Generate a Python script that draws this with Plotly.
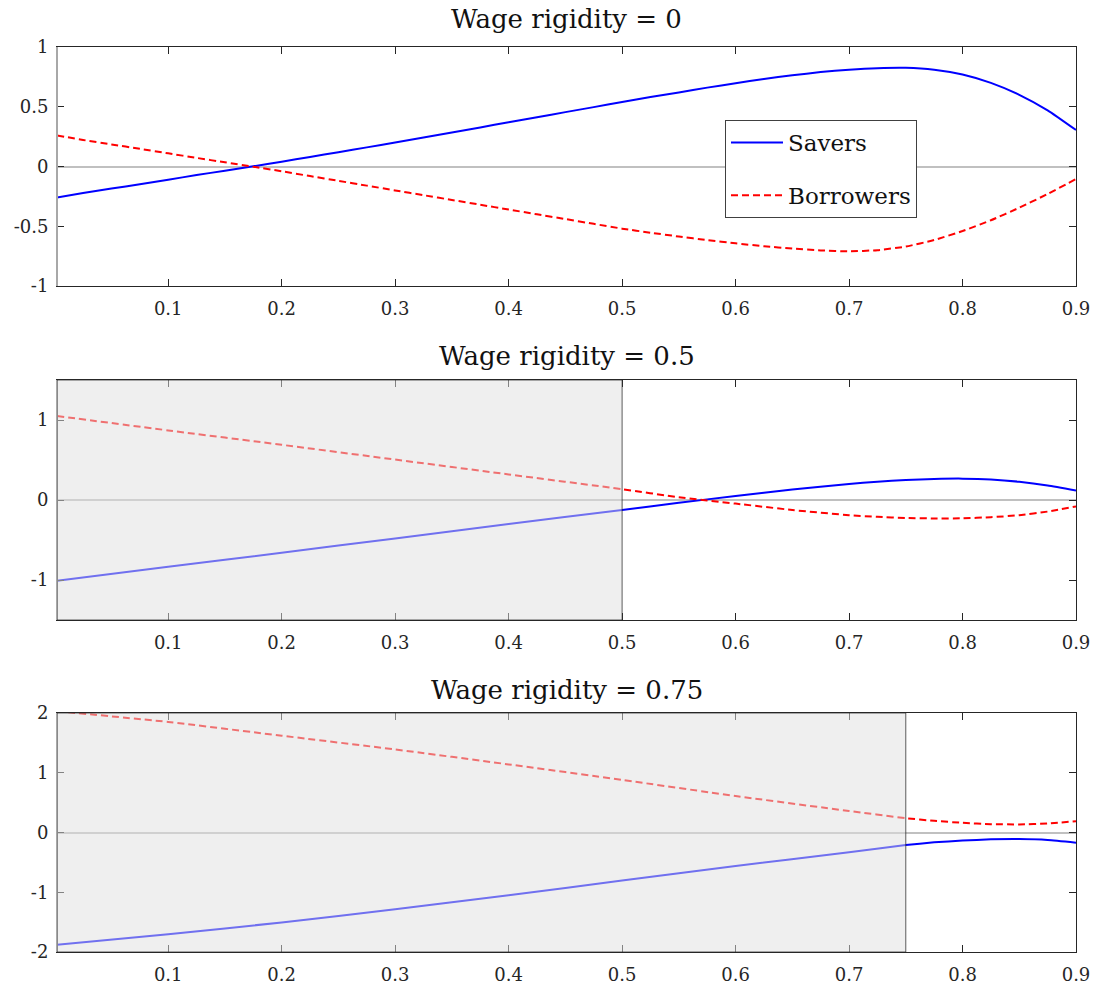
import plotly.graph_objects as go

# ---------------- data ----------------
x1 = [0.002, 0.025, 0.05, 0.075, 0.1, 0.125, 0.15, 0.175, 0.2, 0.225, 0.25, 0.275, 0.3, 0.325, 0.35, 0.375, 0.4, 0.425, 0.45, 0.475, 0.5,
      0.525, 0.55, 0.575, 0.6, 0.625, 0.65, 0.675, 0.7, 0.725, 0.75, 0.775, 0.8, 0.825, 0.85, 0.875, 0.9]
savers1 = [-0.26, -0.222, -0.185, -0.148, -0.11, -0.072, -0.035, 0.002, 0.04, 0.08, 0.12, 0.16, 0.20, 0.242, 0.285, 0.327, 0.37, 0.412, 0.455, 0.497, 0.54,
           0.581, 0.62, 0.66, 0.697, 0.733, 0.763, 0.79, 0.81, 0.823, 0.826, 0.81, 0.77, 0.70, 0.60, 0.47, 0.305]
borrowers1 = [0.26, 0.222, 0.185, 0.148, 0.11, 0.072, 0.035, -0.002, -0.04, -0.08, -0.12, -0.16, -0.20, -0.24, -0.28, -0.32, -0.36, -0.40, -0.44, -0.48, -0.52,
              -0.554, -0.586, -0.616, -0.643, -0.667, -0.687, -0.702, -0.71, -0.70, -0.67, -0.615, -0.54, -0.45, -0.345, -0.23, -0.105]

x2 = [0.002, 0.1, 0.2, 0.3, 0.4, 0.5, 0.55, 0.6, 0.65, 0.7, 0.725, 0.75, 0.775, 0.8, 0.825, 0.85, 0.875, 0.9]
savers2 = [-1.01, -0.835, -0.66, -0.48, -0.30, -0.125, -0.035, 0.05, 0.13, 0.20, 0.228, 0.25, 0.263, 0.267, 0.257, 0.228, 0.182, 0.12]
borrowers2 = [1.05, 0.87, 0.69, 0.505, 0.32, 0.135, 0.035, -0.045, -0.125, -0.19, -0.21, -0.224, -0.231, -0.229, -0.215, -0.19, -0.145, -0.08]

x3 = [0.002, 0.1, 0.2, 0.3, 0.4, 0.5, 0.6, 0.7, 0.75, 0.775, 0.8, 0.825, 0.85, 0.875, 0.9]
savers3 = [-1.88, -1.705, -1.505, -1.285, -1.05, -0.805, -0.56, -0.33, -0.21, -0.165, -0.135, -0.115, -0.11, -0.125, -0.17]
borrowers3 = [2.03, 1.85, 1.62, 1.39, 1.14, 0.88, 0.61, 0.36, 0.24, 0.195, 0.162, 0.14, 0.135, 0.15, 0.19]

titles = ["Wage rigidity = 0", "Wage rigidity = 0.5", "Wage rigidity = 0.75"]
shade_end = [None, 0.5, 0.75]
y_ranges = [[-1, 1], [-1.5, 1.5], [-2, 2]]
y_tickvals = [[-1, -0.5, 0, 0.5, 1], [-1, 0, 1], [-2, -1, 0, 1, 2]]
y_ticktext = [["-1", "-0.5", "0", "0.5", "1"], ["-1", "0", "1"], ["-2", "-1", "0", "1", "2"]]
x_tickvals = [0.1, 0.2, 0.3, 0.4, 0.5, 0.6, 0.7, 0.8, 0.9]
x_ticktext = ["0.1", "0.2", "0.3", "0.4", "0.5", "0.6", "0.7", "0.8", "0.9"]
x_range = [0.002, 0.9]
series_names = ["Savers", "Borrowers"]

# ---------------- layout geometry ----------------
W, H = 1095, 987
FONT = "DejaVu Serif"
AX = "#262626"
xdom = [57 / W, 1076 / W]
ydoms = [[1 - 286 / H, 1 - 47 / H], [1 - 620 / H, 1 - 380 / H], [1 - 952 / H, 1 - 713 / H]]
title_y = [1 - 19 / H, 1 - 356 / H, 1 - 690 / H]

fig = go.Figure()
data = [(x1, savers1, borrowers1), (x2, savers2, borrowers2), (x3, savers3, borrowers3)]

for i, (xx, s, b) in enumerate(data):
    xa = "x" if i == 0 else f"x{i+1}"
    ya = "y" if i == 0 else f"y{i+1}"
    fig.add_trace(go.Scatter(x=xx, y=s, mode="lines", name=series_names[0],
                             line=dict(color="#0000ff", width=2, shape="spline", smoothing=0.5),
                             xaxis=xa, yaxis=ya, showlegend=(i == 0), legendgroup="a"))
    fig.add_trace(go.Scatter(x=xx, y=b, mode="lines", name=series_names[1],
                             line=dict(color="#ff0000", width=2, dash="7px,4px", shape="spline", smoothing=0.5),
                             xaxis=xa, yaxis=ya, showlegend=(i == 0), legendgroup="b"))

layout = dict(
    width=W, height=H, margin=dict(l=0, r=0, t=0, b=0, autoexpand=False),
    paper_bgcolor="white", plot_bgcolor="white",
    font=dict(family=FONT, size=18, color=AX),
    legend=dict(x=725 / W, y=1 - 120 / H, xanchor="left", yanchor="top",
                bordercolor="#404040", borderwidth=1, bgcolor="white",
                font=dict(family=FONT, size=23, color="#111111"),
                tracegroupgap=20, itemwidth=52),
    showlegend=True,
)

shapes = []
annotations = []
for i in range(3):
    xk = "xaxis" if i == 0 else f"xaxis{i+1}"
    yk = "yaxis" if i == 0 else f"yaxis{i+1}"
    xa = "x" if i == 0 else f"x{i+1}"
    ya = "y" if i == 0 else f"y{i+1}"
    layout[xk] = dict(domain=xdom, range=x_range, anchor=ya, tickmode="array",
                      tickvals=x_tickvals, ticktext=x_ticktext, ticks="inside", ticklen=7,
                      tickcolor=AX, showline=True, linecolor=AX, linewidth=1, mirror="ticks",
                      showgrid=False, zeroline=False, ticklabelstandoff=6, automargin=False,
                      tickfont=dict(family=FONT, size=18, color=AX))
    layout[yk] = dict(domain=ydoms[i], range=y_ranges[i], anchor=xa, tickmode="array",
                      tickvals=y_tickvals[i], ticktext=y_ticktext[i], ticks="inside", ticklen=7,
                      tickcolor=AX, showline=True, linecolor=AX, linewidth=1, mirror="ticks",
                      showgrid=False, zeroline=True, zerolinecolor="#c0c0c0", zerolinewidth=2,
                      ticklabelstandoff=4, automargin=False,
                      tickfont=dict(family=FONT, size=18, color=AX))
    # left border appears light grey in the reference
    shapes.append(dict(type="line", xref="x domain" if i == 0 else f"{xa} domain",
                       yref="y domain" if i == 0 else f"{ya} domain",
                       x0=0, x1=0, y0=0, y1=1, line=dict(color="#a8a8a8", width=2), layer="above"))
    if shade_end[i] is not None:
        shapes.append(dict(type="rect", xref=xa, yref=ya, x0=x_range[0], x1=shade_end[i],
                           y0=y_ranges[i][0], y1=y_ranges[i][1],
                           fillcolor="rgba(224,224,224,0.5)",
                           line=dict(color="rgba(40,40,40,0.75)", width=1), layer="above"))
    annotations.append(dict(text=titles[i], xref="paper", yref="paper",
                            x=(xdom[0] + xdom[1]) / 2, y=title_y[i], xanchor="center", yanchor="middle",
                            showarrow=False, font=dict(family=FONT, size=26, color="#111111")))

layout["shapes"] = shapes
layout["annotations"] = annotations
fig.update_layout(**layout)
fig.write_html("out.html")
